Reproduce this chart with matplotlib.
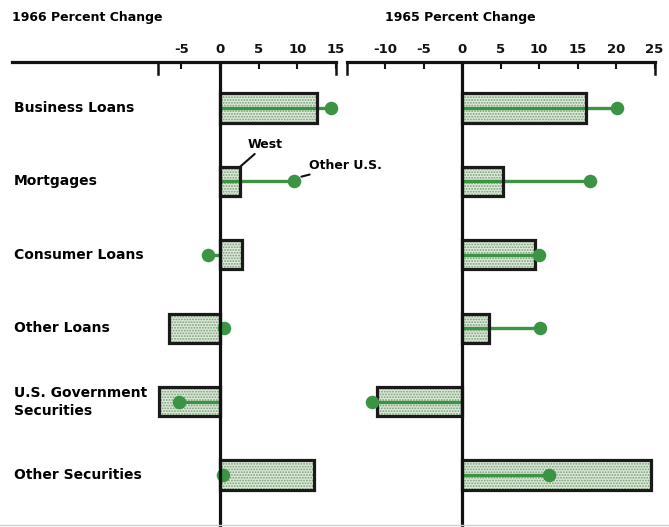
import matplotlib
matplotlib.use("Agg")
import matplotlib.pyplot as plt

categories = ["Business Loans", "Mortgages", "Consumer Loans", "Other Loans",
              "U.S. Government\nSecurities", "Other Securities"]
west_1966 = [12.6, 2.6, 2.9, -6.6, -7.9, 12.1]
other_1966 = [14.3, 9.6, -1.5, 0.5, -5.3, 0.4]
west_1965 = [16.1, 5.3, 9.5, 3.5, -11.0, 24.6]
other_1965 = [20.1, 16.6, 10.0, 10.1, -11.7, 11.3]
ticks_1966 = [-5, 0, 5, 10, 15]
ticks_1965 = [-10, -5, 0, 5, 10, 15, 20, 25]

W, H = 669, 527
fig = plt.figure(figsize=(W / 100, H / 100), dpi=100)
plt.rcParams['hatch.color'] = '#7a9a7a'
plt.rcParams['hatch.linewidth'] = 0.9

GREEN = '#3b9443'
FILL = '#dcebd8'
FONT = dict(family='DejaVu Sans', weight='bold')

def px_axes(x0, x1, y0, y1):
    ax = fig.add_axes([x0 / W, 1 - y1 / H, (x1 - x0) / W, (y1 - y0) / H])
    ax.patch.set_visible(False)
    return ax

top_px, bot_px = 62, 527
c0, step = 108, 73.4
ylim = ((bot_px - c0) / step, (top_px - c0) / step)
pos = list(range(len(categories)))
bh = 0.40

def panel(ax, west, other, ticks, xlim, tall):
    ax.set_xlim(*xlim)
    ax.set_ylim(*ylim)
    ax.barh(pos, west, height=bh, color=FILL, edgecolor='#7a9a7a',
            hatch='......', linewidth=0, zorder=2)
    ax.barh(pos, west, height=bh, fill=False, edgecolor='#1a1a1a',
            linewidth=2.3, zorder=4)
    for p, v in zip(pos, other):
        ax.plot([0, v], [p, p], color=GREEN, lw=2.4, zorder=3,
                solid_capstyle='butt')
    ax.scatter(other, pos, s=95, color=GREEN, zorder=5, linewidths=0,
               clip_on=False)
    ax.axvline(0, color='#111111', lw=2.3, zorder=6)
    for s in ['left', 'right', 'bottom']:
        ax.spines[s].set_visible(False)
    ax.spines['top'].set_linewidth(2.3)
    ax.spines['top'].set_color('#111111')
    ax.xaxis.tick_top()
    ax.set_xticks(ticks)
    ax.set_xticklabels([str(t) for t in ticks], fontsize=9.5, **FONT)
    ax.tick_params(axis='x', direction='in', length=5, width=1.5,
                   pad=4, colors='#111111')
    ax.set_yticks([])
    for t in tall:
        ax.plot([t, t], [ylim[1], ylim[1] + 0.17], color='#111111',
                lw=1.8, zorder=6, clip_on=False)

ax1 = px_axes(12, 336, top_px, bot_px)
panel(ax1, west_1966, other_1966, ticks_1966, (-26.9, 15.0), [-8, 15])
ax2 = px_axes(346.5, 654.5, top_px, bot_px)
panel(ax2, west_1965, other_1965, ticks_1965, (-15, 25), [-15, 25])

fig.text(12 / W, 1 - 18 / H, "1966 Percent Change", fontsize=9,
         va='center', ha='left', **FONT)
fig.text(385 / W, 1 - 18 / H, "1965 Percent Change", fontsize=9,
         va='center', ha='left', **FONT)

for p, lab in zip(pos, categories):
    y = c0 + p * step
    fig.text(14 / W, 1 - y / H, lab, fontsize=10, va='center', ha='left',
             linespacing=1.35, **FONT)

# annotations
ax1.annotate("West", xy=(west_1966[1], 1 - bh / 2), xytext=(3.6, 0.5),
             fontsize=9, va='center', ha='left', annotation_clip=False,
             arrowprops=dict(arrowstyle='-', color='#111111', lw=1.5,
                             shrinkA=0, shrinkB=0), **FONT)
ax1.annotate("Other U.S.", xy=(other_1966[1] + 0.4, 1 - 0.05),
             xytext=(11.5, 0.78), fontsize=9, va='center', ha='left',
             annotation_clip=False,
             arrowprops=dict(arrowstyle='-', color='#111111', lw=1.5,
                             shrinkA=0, shrinkB=3), **FONT)

fig.add_artist(plt.Line2D([0, 1], [1 - 525 / H, 1 - 525 / H],
                          color='#c8d0d8', lw=1))

fig.savefig("out.png", dpi=100)
